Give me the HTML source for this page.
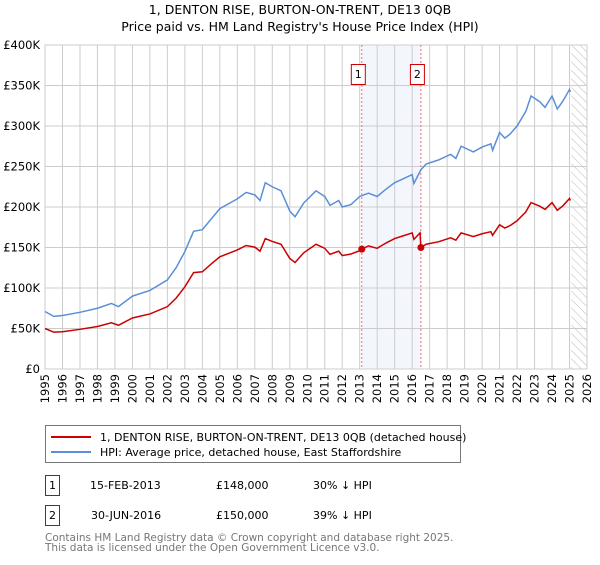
<!DOCTYPE html>
<html><head><meta charset="utf-8"><style>
body{margin:0;background:#fff;font-family:"Liberation Sans","DejaVu Sans",sans-serif;}
svg text{font-family:"DejaVu Sans","Liberation Sans",sans-serif;}
</style></head><body>
<svg width="600" height="560" viewBox="0 0 600 560" xmlns="http://www.w3.org/2000/svg">
<defs><pattern id="hatch" width="6" height="6" patternUnits="userSpaceOnUse" patternTransform="rotate(-45)"><line x1="0" y1="0" x2="0" y2="6" stroke="#bbb" stroke-width="1"/></pattern></defs>
<text x="300" y="14" text-anchor="middle" font-size="12.5" fill="#000">1, DENTON RISE, BURTON-ON-TRENT, DE13 0QB</text>
<text x="300" y="31" text-anchor="middle" font-size="12.5" fill="#000">Price paid vs. HM Land Registry's House Price Index (HPI)</text>
<g id="plot"></g>
<g>
<rect x="45.5" y="425.5" width="415" height="37" fill="#fff" stroke="#777"/>
<line x1="51" y1="437" x2="91" y2="437" stroke="#cc0000" stroke-width="2"/>
<text x="100" y="441" font-size="11">1, DENTON RISE, BURTON-ON-TRENT, DE13 0QB (detached house)</text>
<line x1="51" y1="452" x2="91" y2="452" stroke="#5b8fd6" stroke-width="2"/>
<text x="100" y="456" font-size="11">HPI: Average price, detached house, East Staffordshire</text>
</g>
<g font-size="11">
<rect x="45.5" y="475.5" width="14" height="20" fill="#fff" stroke="#cc0000"/>
<text x="52.5" y="489" text-anchor="middle">1</text>
<text x="90" y="489">15-FEB-2013</text><text x="216" y="489">£148,000</text><text x="313" y="489">30% ↓ HPI</text>
<rect x="45.5" y="505.5" width="14" height="20" fill="#fff" stroke="#cc0000"/>
<text x="52.5" y="519" text-anchor="middle">2</text>
<text x="91" y="519">30-JUN-2016</text><text x="216" y="519">£150,000</text><text x="313" y="519">39% ↓ HPI</text>
</g>
<text x="45" y="541" font-size="10.5" fill="#777">Contains HM Land Registry data © Crown copyright and database right 2025.</text>
<text x="45" y="551" font-size="10.5" fill="#777">This data is licensed under the Open Government Licence v3.0.</text>
</svg>
<script>
const hpiDates=[1995,1995.5,1996,1997,1998,1998.8,1999.2,2000,2001,2002,2002.5,2003,2003.5,2004,2004.5,2005,2006,2006.5,2007,2007.3,2007.6,2008,2008.5,2009,2009.3,2009.8,2010.5,2011,2011.3,2011.8,2012,2012.5,2013,2013.5,2014,2014.5,2015,2015.5,2016,2016.1,2016.5,2016.8,2017.5,2018.2,2018.5,2018.8,2019.5,2020,2020.5,2020.6,2021,2021.3,2021.6,2022,2022.5,2022.8,2023.3,2023.6,2024,2024.3,2024.6,2025,2025.05];
const hpiValues=[71,65,66,70,75,81,77,90,97,110,125,145,170,172,185,198,210,218,215,208,230,225,220,195,188,205,220,213,202,208,200,203,213,217,213,222,230,235,240,229,246,253,258,265,260,275,268,274,278,270,292,285,290,300,318,337,330,323,337,321,330,345,342];
const priceDates=[1995,1995.5,1996,1997,1998,1998.8,1999.2,2000,2001,2002,2002.5,2003,2003.5,2004,2004.5,2005,2006,2006.5,2007,2007.3,2007.6,2008,2008.5,2009,2009.3,2009.8,2010.5,2011,2011.3,2011.8,2012,2012.5,2013,2013.12,2013.5,2014,2014.5,2015,2015.5,2016,2016.1,2016.45,2016.5,2016.8,2017.5,2018.2,2018.5,2018.8,2019.5,2020,2020.5,2020.6,2021,2021.3,2021.6,2022,2022.5,2022.8,2023.3,2023.6,2024,2024.3,2024.6,2025,2025.05];
const priceValues=[50,45.5,46,49,52.5,57,54,63,68,77,87.5,101.5,119,120,129.5,138.5,147,152.5,150.5,145.5,161,157.5,154,136.5,131.5,143.5,154,149,141.5,145.5,140,142,146,148,152,149,155.5,161,164.5,168,160,168,150,154,157,162,159,168,163.5,167,169.5,165,178,174,177,183,194,205.5,201,197,205.5,196,201,210.5,208];
const saleDates=[2013.12,2016.5];
const saleValues=[148,150];
const saleLabels=["1","2"];
const yTicks=[0,50,100,150,200,250,300,350,400];
const yTickLabels=["£0","£50K","£100K","£150K","£200K","£250K","£300K","£350K","£400K"];
const xYears=[];for(let y=1995;y<=2026;y++)xYears.push(y);

const X0=45,X1=587,Y0=369,Y1=45;
const xs=t=>X0+(t-1995)/(2026-1995)*(X1-X0);
const ys=v=>Y0-v/400*(Y0-Y1);
const NS="http://www.w3.org/2000/svg";
const g=document.getElementById('plot');
function mk(tag,attrs,parent){const e=document.createElementNS(NS,tag);for(const k in attrs)e.setAttribute(k,attrs[k]);(parent||g).appendChild(e);return e;}

const shade=mk('rect',{x:xs(saleDates[0]),y:Y1,width:xs(saleDates[1])-xs(saleDates[0]),height:Y0-Y1,fill:'#eef3fc',opacity:0.7});


const hat=mk('rect',{x:xs(2025.1),y:Y1,width:X1-xs(2025.1),height:Y0-Y1,fill:'url(#hatch)'});



xYears.forEach(y=>{
  const l=mk('line',{x1:xs(y),y1:Y1,x2:xs(y),y2:Y0,stroke:'#ccc','stroke-width':1});
  
  
  const t=mk('text',{x:0,y:0,'font-size':11.5,'text-anchor':'end',transform:`translate(${xs(y)+4},${Y0+5}) rotate(-90)`});
  t.textContent=y;
  
  
});
yTicks.forEach((v,i)=>{
  const l=mk('line',{x1:X0,y1:ys(v),x2:X1,y2:ys(v),stroke:'#ccc','stroke-width':1});
  
  
  const t=mk('text',{x:X0-5,y:ys(v)+4,'font-size':11.5,'text-anchor':'end'});
  t.textContent=yTickLabels[i];
  
  
});
const fr=mk('rect',{x:X0,y:Y1,width:X1-X0,height:Y0-Y1,fill:'none',stroke:'#ccc'});



saleDates.forEach((d,i)=>{
  const l=mk('line',{x1:xs(d),y1:Y1,x2:xs(d),y2:Y0,stroke:'#f07070','stroke-width':1,'stroke-dasharray':'2,2'});
  
  
});

const hp=mk('polyline',{points:hpiDates.map((d,i)=>xs(d)+','+ys(hpiValues[i])).join(' '),fill:'none',stroke:'#5b8fd6','stroke-width':1.5});


const pp=mk('polyline',{points:priceDates.map((d,i)=>xs(d)+','+ys(priceValues[i])).join(' '),fill:'none',stroke:'#cc0000','stroke-width':1.5});



saleDates.forEach((d,i)=>{
  const c=mk('circle',{cx:xs(d),cy:ys(saleValues[i]),r:3.5,fill:'#cc0000'});
  
  
  const b=mk('rect',{x:xs(d)-10.5,y:64.5,width:14,height:20,fill:'#fff',stroke:'#cc0000'});
  
  
  const t=mk('text',{x:xs(d)-3.5,y:78,'font-size':11,'text-anchor':'middle'});
  t.textContent=saleLabels[i];
  
  
});
</script>
</body></html>
